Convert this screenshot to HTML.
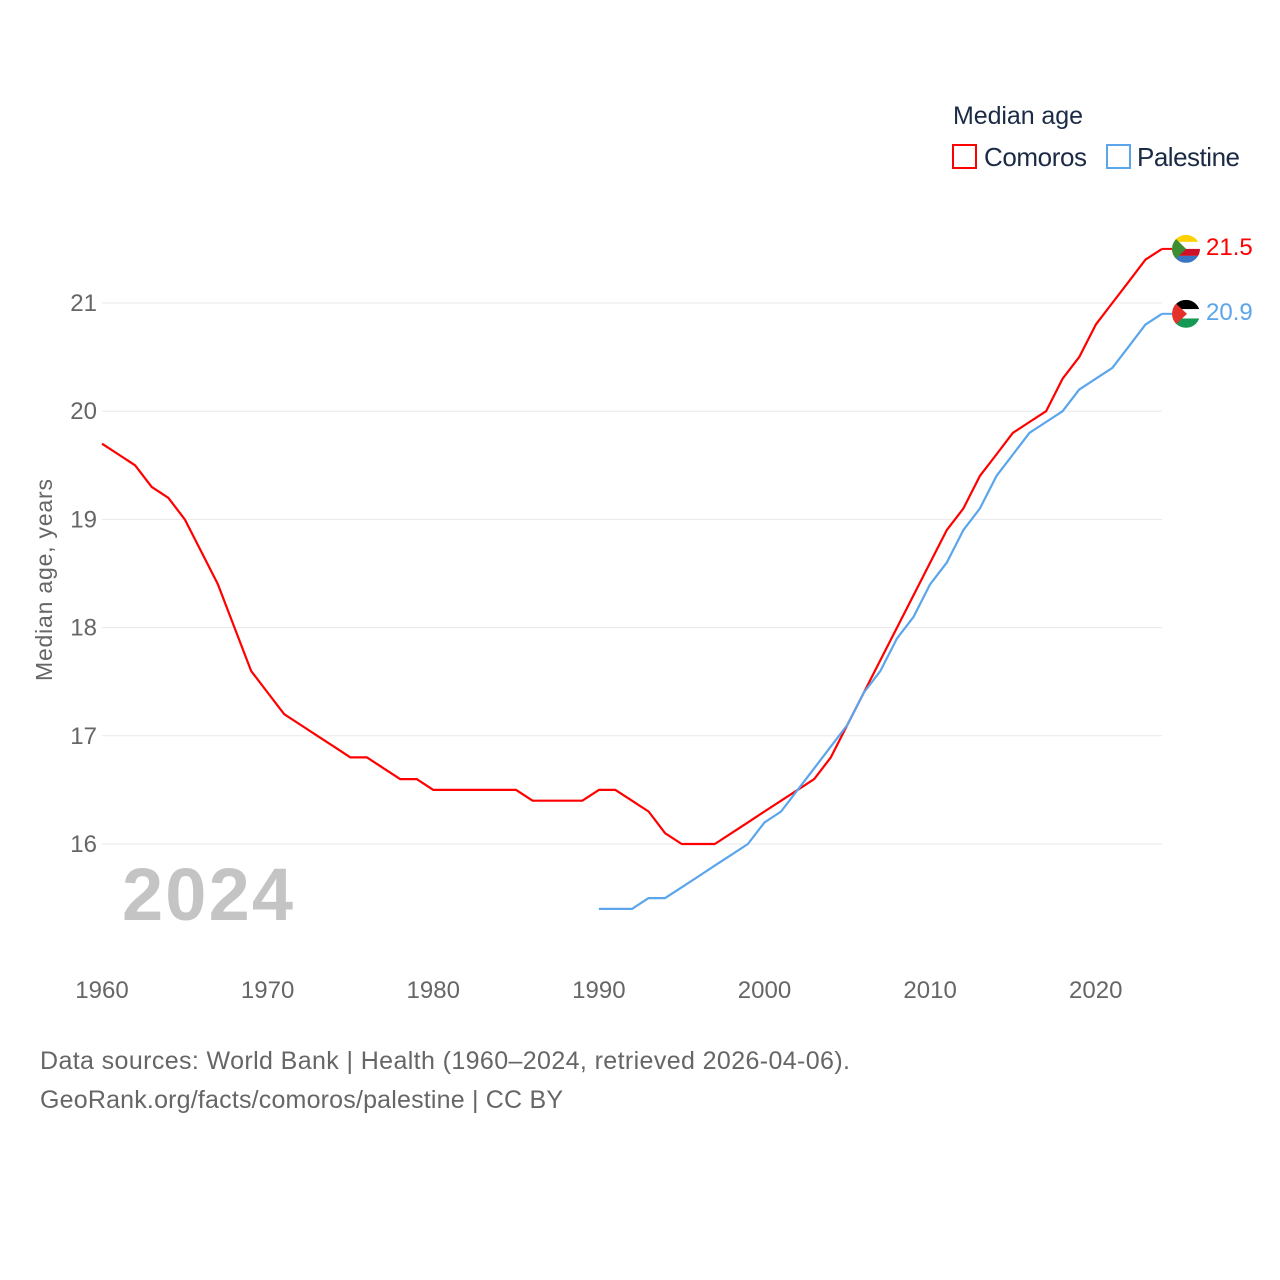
<!DOCTYPE html>
<html><head><meta charset="utf-8"><style>
html,body{margin:0;padding:0;background:#fff;}
svg{display:block;font-family:"Liberation Sans",sans-serif;}
</style></head><body>
<svg id="chart" width="1280" height="1280" viewBox="0 0 1280 1280">
<g id="grid"></g>
<g id="yticks"></g>
<g id="xticks"></g>
<text x="52" y="580" transform="rotate(-90 52 580)" text-anchor="middle" font-size="23" fill="#666" textLength="202">Median age, years</text>
<text x="122" y="920" font-size="74" font-weight="bold" fill="#c4c4c4" textLength="171">2024</text>
<g id="series"></g>
<g>
<text x="953" y="124" font-size="25" fill="#1b2a45" textLength="130">Median age</text>
<g>
<rect x="953" y="145" width="23" height="23" fill="none" stroke="#ff0000" stroke-width="2"/>
<text x="984" y="166" font-size="26" fill="#1b2a45" textLength="103">Comoros</text></g>
<g>
<rect x="1107" y="145" width="23" height="23" fill="none" stroke="#5aa5ec" stroke-width="2"/>
<text x="1137" y="166" font-size="26" fill="#1b2a45" textLength="103">Palestine</text></g>
</g>
<text x="40" y="1069" font-size="25" fill="#666" textLength="810">Data sources: World Bank | Health (1960–2024, retrieved 2026-04-06).</text>
<text x="40" y="1108" font-size="25" fill="#666" textLength="523">GeoRank.org/facts/comoros/palestine | CC BY</text>
</svg>
<script>
const comorosYears = [1960,1961,1962,1963,1964,1965,1966,1967,1968,1969,1970,1971,1972,1973,1974,1975,1976,1977,1978,1979,1980,1981,1982,1983,1984,1985,1986,1987,1988,1989,1990,1991,1992,1993,1994,1995,1996,1997,1998,1999,2000,2001,2002,2003,2004,2005,2006,2007,2008,2009,2010,2011,2012,2013,2014,2015,2016,2017,2018,2019,2020,2021,2022,2023,2024];
const comorosValues = [19.7,19.6,19.5,19.3,19.2,19.0,18.7,18.4,18.0,17.6,17.4,17.2,17.1,17.0,16.9,16.8,16.8,16.7,16.6,16.6,16.5,16.5,16.5,16.5,16.5,16.5,16.4,16.4,16.4,16.4,16.5,16.5,16.4,16.3,16.1,16.0,16.0,16.0,16.1,16.2,16.3,16.4,16.5,16.6,16.8,17.1,17.4,17.7,18.0,18.3,18.6,18.9,19.1,19.4,19.6,19.8,19.9,20.0,20.3,20.5,20.8,21.0,21.2,21.4,21.5];
const palestineYears = [1990,1991,1992,1993,1994,1995,1996,1997,1998,1999,2000,2001,2002,2003,2004,2005,2006,2007,2008,2009,2010,2011,2012,2013,2014,2015,2016,2017,2018,2019,2020,2021,2022,2023,2024];
const palestineValues = [15.4,15.4,15.4,15.5,15.5,15.6,15.7,15.8,15.9,16.0,16.2,16.3,16.5,16.7,16.9,17.1,17.4,17.6,17.9,18.1,18.4,18.6,18.9,19.1,19.4,19.6,19.8,19.9,20.0,20.2,20.3,20.4,20.6,20.8,20.9];
const yTicks = [16,17,18,19,20,21];
const xTicks = [1960,1970,1980,1990,2000,2010,2020];

const NS="http://www.w3.org/2000/svg";
const xS = y => 102 + (y-1960)*(1162-102)/64;
const yS = v => 844 - (v-16)*108.2;
function mk(tag, attrs, parent){const e=document.createElementNS(NS,tag);for(const k in attrs)e.setAttribute(k,attrs[k]);parent.appendChild(e);return e;}
const grid=document.getElementById('grid'), yt=document.getElementById('yticks'), xt=document.getElementById('xticks'), ser=document.getElementById('series');
yTicks.forEach(v=>{
  const l=mk('line',{x1:102,x2:1162,y1:yS(v),y2:yS(v),stroke:'#e8e8e8','stroke-width':1},grid);
  
  
  const t=mk('text',{x:97,y:yS(v)+8,'text-anchor':'end','font-size':24,fill:'#666'},yt);
  t.textContent=v;
  
  
});
xTicks.forEach(y=>{
  const t=mk('text',{x:xS(y),y:998,'text-anchor':'middle','font-size':24,fill:'#666'},xt);
  t.textContent=y;
  
  
});
function line(years, vals, color, name){
  const d=years.map((y,i)=>(i?'L':'M')+xS(y).toFixed(1)+','+yS(vals[i]).toFixed(1)).join('');
  const p=mk('path',{d:d,fill:'none',stroke:color,'stroke-width':2.2,'stroke-linejoin':'round'},ser);
  
  
  const lx=xS(years[years.length-1]), lv=vals[vals.length-1];
  const g=mk('g',{},ser);
  
  
  mk('line',{x1:lx,x2:lx+12,y1:yS(lv),y2:yS(lv),stroke:color,'stroke-width':2},g);
  const t=mk('text',{x:1206,y:yS(lv)+6,'font-size':24,fill:color},g);
  t.textContent=lv.toFixed(1);
  return yS(lv);
}
const cy=line(comorosYears,comorosValues,'#ff0000','comoros');
const py=line(palestineYears,palestineValues,'#5aa5ec','palestine');
(function(){
  const defs=mk('defs',{},ser);
  const c1=mk('clipPath',{id:'cf'},defs); mk('circle',{cx:1186,cy:cy,r:14},c1);
  const c2=mk('clipPath',{id:'pf'},defs); mk('circle',{cx:1186,cy:py,r:14},c2);
  const f1=mk('g',{'clip-path':'url(#cf)'},ser);
  
  
  [['#ffd100',0],['#fff',7],['#ce1126',14],['#3a75c4',21]].forEach(([c,o])=>mk('rect',{x:1172,y:cy-14+o,width:28,height:7,fill:c},f1));
  mk('polygon',{points:`1172,${cy-14} 1186,${cy} 1172,${cy+14}`,fill:'#3d8e33'},f1);
  const f2=mk('g',{'clip-path':'url(#pf)'},ser);
  
  
  [['#000',0],['#fff',9.33],['#149954',18.66]].forEach(([c,o])=>mk('rect',{x:1172,y:py-14+o,width:28,height:9.4,fill:c},f2));
  mk('polygon',{points:`1172,${py-14} 1187,${py} 1172,${py+14}`,fill:'#e4312b'},f2);
})();
</script>
</body></html>
